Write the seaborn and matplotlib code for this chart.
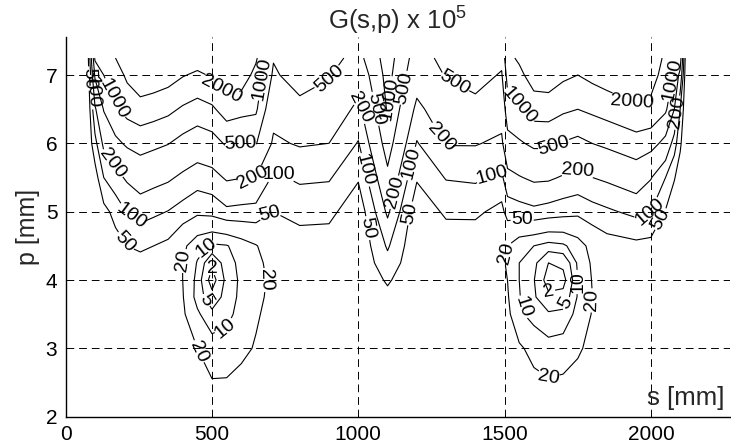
import numpy as np
import pandas as pd
import seaborn as sns
import matplotlib
matplotlib.use("Agg")
import matplotlib.pyplot as plt

# ---------------------------------------------------------------------------
# G(s,p) x 1e5, stored as log10 values on a (p, s) grid.
# Each list below is one column of the grid (fixed s), ordered like p_mm.
# ---------------------------------------------------------------------------
p_mm = [2.0, 2.5, 3.0, 3.5, 3.75, 4.0, 4.25, 4.5, 5.0, 5.5, 6.0, 6.5, 7.0, 7.25]

s_mm = [75, 100, 130, 170, 210, 255, 300, 350, 400, 450, 500, 550, 600, 650,
        710, 800, 900, 1000, 1100, 1200, 1300, 1400, 1490, 1510, 1550, 1600,
        1650, 1700, 1750, 1800, 1850, 1950, 2000, 2050, 2080, 2100, 2120]

c0075 = [1.45, 1.45, 1.45, 1.45, 1.45, 1.45, 1.45, 1.45, 1.45, 1.45, 1.45, 1.45, 1.50, 1.55]
c0100 = [1.45, 1.45, 1.45, 1.45, 1.45, 1.45, 1.45, 1.45, 1.45, 1.55, 1.90, 2.25, 2.75, 3.05]
c0130 = [1.45, 1.45, 1.45, 1.45, 1.45, 1.45, 1.45, 1.47, 1.60, 2.00, 2.38, 2.72, 3.00, 3.15]
c0170 = [1.45, 1.45, 1.45, 1.45, 1.45, 1.45, 1.48, 1.58, 1.80, 2.20, 2.62, 2.97, 3.15, 3.30]
c0210 = [1.45, 1.45, 1.45, 1.45, 1.45, 1.46, 1.55, 1.70, 2.02, 2.35, 2.75, 3.10, 3.36, 3.52]
c0255 = [1.45, 1.45, 1.45, 1.45, 1.45, 1.47, 1.59, 1.76, 2.12, 2.47, 2.82, 3.17, 3.53, 3.70]
c0300 = [1.45, 1.45, 1.45, 1.45, 1.45, 1.46, 1.55, 1.70, 2.06, 2.41, 2.77, 3.13, 3.49, 3.67]
c0350 = [1.45, 1.45, 1.45, 1.45, 1.45, 1.45, 1.50, 1.63, 1.99, 2.35, 2.71, 3.07, 3.43, 3.61]
c0400 = [1.45, 1.45, 1.42, 1.35, 1.32, 1.30, 1.30, 1.38, 1.88, 2.24, 2.60, 2.96, 3.32, 3.50]
c0450 = [1.45, 1.42, 1.30, 1.05, 0.90, 0.92, 0.98, 1.10, 1.77, 2.14, 2.51, 2.88, 3.25, 3.44]
c0500 = [1.45, 1.32, 1.15, 0.80, 0.45, 0.10, 0.40, 0.95, 1.81, 2.19, 2.57, 2.95, 3.33, 3.52]
c0550 = [1.45, 1.33, 1.12, 0.92, 0.85, 0.82, 0.88, 0.98, 1.94, 2.34, 2.74, 3.14, 3.54, 3.74]
c0600 = [1.45, 1.40, 1.22, 1.10, 1.07, 1.06, 1.08, 1.14, 1.92, 2.31, 2.70, 3.09, 3.48, 3.67]
c0650 = [1.45, 1.45, 1.33, 1.26, 1.23, 1.22, 1.23, 1.28, 1.90, 2.30, 2.72, 3.05, 3.20, 3.35]
c0710 = [1.45, 1.45, 1.45, 1.42, 1.38, 1.36, 1.40, 1.50, 1.70, 1.95, 2.25, 2.42, 2.65, 2.72]
c0800 = [1.45, 1.45, 1.45, 1.45, 1.45, 1.45, 1.47, 1.55, 1.80, 2.05, 2.33, 2.60, 2.85, 2.95]
c0900 = [1.45, 1.45, 1.45, 1.45, 1.45, 1.45, 1.47, 1.55, 1.78, 2.03, 2.30, 2.55, 2.72, 2.80]
c1000 = [1.45, 1.45, 1.45, 1.45, 1.45, 1.45, 1.45, 1.45, 1.50, 1.73, 1.98, 2.22, 2.47, 2.60]
c1100 = [1.45, 1.45, 1.45, 1.50, 1.62, 1.74, 1.90, 2.04, 2.36, 2.62, 2.86, 3.03, 3.10, 3.14]
c1200 = [1.45, 1.45, 1.45, 1.45, 1.45, 1.45, 1.45, 1.45, 1.50, 1.73, 1.98, 2.22, 2.47, 2.55]
c1300 = [1.45, 1.45, 1.45, 1.45, 1.45, 1.45, 1.47, 1.52, 1.75, 2.02, 2.32, 2.52, 2.72, 2.80]
c1400 = [1.45, 1.45, 1.45, 1.45, 1.45, 1.45, 1.47, 1.50, 1.76, 2.05, 2.32, 2.60, 2.82, 2.95]
c1490 = [1.45, 1.45, 1.45, 1.42, 1.38, 1.35, 1.33, 1.36, 1.60, 1.94, 2.24, 2.45, 2.67, 2.78]
c1510 = [1.45, 1.45, 1.43, 1.38, 1.33, 1.30, 1.28, 1.30, 1.84, 2.20, 2.58, 2.88, 3.10, 3.22]
c1550 = [1.45, 1.42, 1.35, 1.05, 1.02, 1.00, 1.00, 1.10, 1.88, 2.28, 2.66, 2.98, 3.22, 3.35]
c1600 = [1.45, 1.38, 1.20, 0.90, 0.75, 0.72, 0.80, 1.00, 1.93, 2.36, 2.76, 3.13, 3.45, 3.60]
c1650 = [1.45, 1.33, 1.12, 0.75, 0.40, 0.10, 0.30, 0.90, 1.88, 2.35, 2.76, 3.14, 3.47, 3.62]
c1700 = [1.45, 1.35, 1.15, 0.80, 0.45, 0.15, 0.40, 0.95, 1.83, 2.27, 2.68, 3.05, 3.36, 3.50]
c1750 = [1.45, 1.42, 1.25, 1.10, 1.03, 1.00, 1.05, 1.15, 1.78, 2.22, 2.62, 3.00, 3.30, 3.45]
c1800 = [1.45, 1.45, 1.40, 1.32, 1.30, 1.32, 1.35, 1.42, 1.88, 2.30, 2.70, 3.06, 3.38, 3.52]
c1850 = [1.45, 1.45, 1.45, 1.45, 1.45, 1.45, 1.48, 1.56, 1.95, 2.36, 2.76, 3.12, 3.45, 3.60]
c1950 = [1.45, 1.45, 1.45, 1.45, 1.45, 1.47, 1.52, 1.62, 2.08, 2.50, 2.88, 3.24, 3.60, 3.75]
c2000 = [1.45, 1.45, 1.45, 1.45, 1.45, 1.47, 1.52, 1.60, 2.00, 2.32, 2.82, 3.22, 3.42, 3.50]
c2050 = [1.45, 1.45, 1.45, 1.45, 1.45, 1.45, 1.47, 1.50, 1.68, 2.00, 2.60, 3.05, 3.18, 3.24]
c2080 = [1.45, 1.45, 1.45, 1.45, 1.45, 1.45, 1.45, 1.45, 1.50, 1.72, 2.15, 2.70, 2.97, 3.05]
c2100 = [1.45, 1.45, 1.45, 1.45, 1.45, 1.45, 1.45, 1.45, 1.45, 1.55, 1.75, 2.00, 2.60, 2.90]
c2120 = [1.45, 1.45, 1.45, 1.45, 1.45, 1.45, 1.45, 1.45, 1.45, 1.45, 1.45, 1.45, 1.45, 1.50]

columns = [c0075, c0100, c0130, c0170, c0210, c0255, c0300, c0350, c0400, c0450,
           c0500, c0550, c0600, c0650, c0710, c0800, c0900, c1000, c1100, c1200,
           c1300, c1400, c1490, c1510, c1550, c1600, c1650, c1700, c1750, c1800,
           c1850, c1950, c2000, c2050, c2080, c2100, c2120]

contour_levels = [2, 5, 10, 20, 50, 100, 200, 500, 1000, 2000]
x_ticks = [0, 500, 1000, 1500, 2000]
y_ticks = [2, 3, 4, 5, 6, 7]

# Where the inline level labels sit (s, p)
label_spots = [
    (80, 6.95), (90, 6.75), (152, 6.63), (162, 5.71), (208, 4.83), (191, 4.52),
    (538, 6.82), (596, 6.02), (637, 5.58), (672, 6.95), (722, 5.49), (692, 5.02),
    (914, 6.88), (1006, 6.53), (1040, 6.49), (1101, 6.66), (1160, 6.81),
    (1030, 5.62), (1033, 4.76), (1136, 5.27), (1177, 5.71), (1170, 4.98),
    (1313, 6.74), (1269, 6.05), (1457, 5.53), (1560, 4.90),
    (1543, 6.53), (1665, 6.00), (1747, 5.65), (1939, 6.64), (2076, 6.93),
    (2090, 6.45), (1997, 4.98), (2038, 4.88),
    (401, 4.28), (449, 2.94), (690, 4.00), (460, 4.54), (555, 3.19), (469, 3.67),
    (505, 4.20),
    (1495, 4.40), (1645, 2.53), (1803, 3.70), (1553, 3.59), (1752, 3.97),
    (1723, 3.63), (1648, 3.75),
]

# ---------------------------------------------------------------------------
log_g = pd.DataFrame(np.array(columns).T, index=p_mm, columns=s_mm)

sns.set_theme(style="white")
plt.rcParams["font.family"] = ["Liberation Sans", "DejaVu Sans"]
plt.rcParams["mathtext.fontset"] = "custom"
plt.rcParams["mathtext.rm"] = "Liberation Sans"

W, H = 731, 443
fig = plt.figure(figsize=(W / 100, H / 100), dpi=100)
left, right, top, bottom = 65.7, 730.0, 37.0, 416.6
ax = fig.add_axes([left / W, 1 - bottom / H, (right - left) / W, (bottom - top) / H])

x_max = (right - left) / 0.2926
y_max = 2 + (bottom - top) / 68.3

cs = ax.contour(log_g.columns.values, log_g.index.values, log_g.values,
                levels=np.log10(contour_levels), colors="black", linewidths=0.8)
fmt = {lv: str(v) for lv, v in zip(cs.levels, contour_levels)}
ax.clabel(cs, fmt=fmt, fontsize=14, inline=True, inline_spacing=2,
          manual=label_spots)

ax.set_xlim(0, x_max)
ax.set_ylim(2, y_max)
ax.set_xticks(x_ticks)
ax.set_yticks(y_ticks)
ax.tick_params(length=0, labelsize=15, pad=6, colors="black")

ax.grid(True, color="black", linewidth=0.7, linestyle=(0, (8, 5)))
for side in ("top", "right"):
    ax.spines[side].set_visible(False)
for side in ("left", "bottom"):
    ax.spines[side].set_color("black")
    ax.spines[side].set_linewidth(1.0)

ax.set_title("G(s,p) x 10$^{5}$", fontsize=18.5, pad=6)
ax.set_ylabel("p [mm]", fontsize=18, labelpad=4)
ax.set_xlabel("s [mm]", fontsize=18.5)
ax.xaxis.set_label_coords((647 - left) / (right - left), (bottom - 405) / (bottom - top))
ax.xaxis.label.set_ha("left")
ax.xaxis.label.set_va("baseline")

fig.savefig("out.png", dpi=100)
